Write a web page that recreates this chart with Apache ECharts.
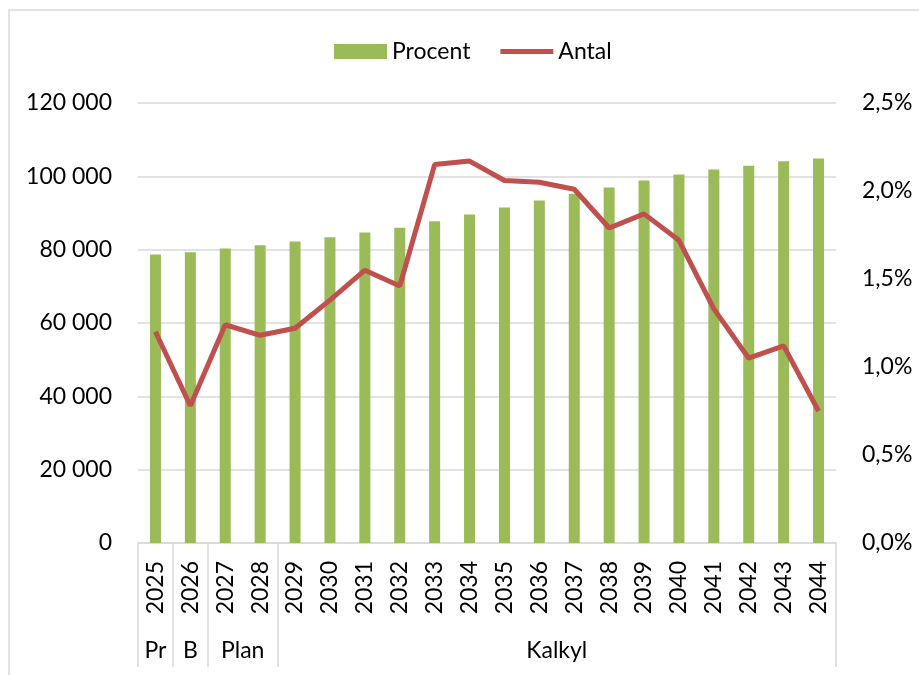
<!DOCTYPE html>
<html>
<head>
<meta charset="utf-8">
<script src="https://cdn.jsdelivr.net/npm/echarts@6.0.0/dist/echarts.min.js"></script>
<style>
  html, body { margin: 0; padding: 0; background: #fff; }
  #chart { width: 919px; height: 675px; }
</style>
</head>
<body>
<div id="chart"></div>
<script>
// kategorier
var years = ['2025', '2026', '2027', '2028', '2029', '2030', '2031', '2032', '2033', '2034',
  '2035', '2036', '2037', '2038', '2039', '2040', '2041', '2042', '2043', '2044']
// staplar (vänster axel), heter "Procent" i legenden
var barValues = [78660, 79290, 80300, 81200, 82210, 83390, 84670, 85950, 87750, 89580,
  91490, 93400, 95230, 96950, 98860, 100490, 101860, 102870, 104120, 104860]
// linje (höger axel, procent), heter "Antal" i legenden
var lineValues = [1.20, 0.78, 1.24, 1.18, 1.22, 1.38, 1.55, 1.46, 2.15, 2.17,
  2.06, 2.05, 2.01, 1.79, 1.87, 1.72, 1.33, 1.05, 1.12, 0.75]
// grupper under årtalen
var groupNames = ['Pr', 'B', 'Plan', 'Kalkyl']
var groupSizes = [1, 1, 2, 16]
var leftTicks = [0, 20000, 40000, 60000, 80000, 100000, 120000]
var rightTicks = [0, 0.5, 1, 1.5, 2, 2.5]

var bounds = [0]
var centers = []
groupSizes.forEach(function (s, i) {
  centers.push(bounds[i] + s / 2)
  bounds.push(bounds[i] + s)
})

var font = 'Lato, "Open Sans", sans-serif'
var fs = 23
var gridColor = '#d9d9d9'

var chart = echarts.init(document.getElementById('chart'))
chart.setOption({
  animation: false,
  textStyle: { fontFamily: font },
  graphic: [{
    type: 'rect',
    shape: { x: 9, y: 10, width: 940, height: 700 },
    style: { fill: null, stroke: gridColor, lineWidth: 1.5 },
    silent: true
  }],
  legend: {
    left: 334,
    top: 40,
    padding: 0,
    itemWidth: 53,
    itemHeight: 15,
    itemGap: 30,
    textStyle: { fontFamily: font, fontSize: fs, color: '#000' },
    data: [
      { name: 'Procent', icon: 'rect' },
      { name: 'Antal', icon: 'path://M0,0L0,0M0,5L53,5L53,10L0,10ZM53,15L53,15' }
    ]
  },
  grid: { left: 138, right: 83, top: 103, bottom: 132 },
  xAxis: [{
    type: 'category',
    data: years,
    axisLine: { lineStyle: { color: gridColor, width: 1.5 } },
    axisTick: { show: false },
    axisLabel: {
      rotate: 90,
      margin: 18,
      fontFamily: font,
      fontSize: fs,
      color: '#000',
      interval: 0
    }
  }, {
    type: 'value',
    min: 0,
    max: years.length,
    position: 'bottom',
    axisLine: { show: false },
    splitLine: { show: false },
    axisTick: {
      show: true,
      length: 124,
      customValues: bounds,
      lineStyle: { color: gridColor, width: 1.5 }
    },
    axisLabel: {
      customValues: centers,
      margin: 96,
      fontFamily: font,
      fontSize: fs,
      color: '#000',
      formatter: function (v) {
        var i = centers.indexOf(v)
        return i >= 0 ? groupNames[i] : ''
      }
    }
  }],
  yAxis: [{
    type: 'value',
    min: leftTicks[0],
    max: leftTicks[leftTicks.length - 1],
    interval: 20000,
    axisLine: { show: false },
    axisTick: { show: false },
    splitLine: { lineStyle: { color: gridColor, width: 1.5 } },
    axisLabel: {
      margin: 26,
      fontFamily: font,
      fontSize: fs,
      color: '#000',
      formatter: function (v) {
        return String(v).replace(/\B(?=(\d{3})+(?!\d))/g, ' ')
      }
    }
  }, {
    type: 'value',
    min: rightTicks[0],
    max: rightTicks[rightTicks.length - 1],
    interval: 0.5,
    position: 'right',
    axisLine: { show: false },
    axisTick: { show: false },
    splitLine: { show: false },
    axisLabel: {
      margin: 26,
      fontFamily: font,
      fontSize: fs,
      color: '#000',
      formatter: function (v) {
        return v.toFixed(1).replace('.', ',') + '%'
      }
    }
  }],
  series: [{
    name: 'Procent',
    type: 'bar',
    xAxisIndex: 0,
    yAxisIndex: 0,
    barWidth: 11,
    itemStyle: { color: '#9bbb59' },
    data: barValues
  }, {
    name: 'Antal',
    type: 'line',
    xAxisIndex: 0,
    yAxisIndex: 1,
    symbol: 'none',
    z: 5,
    lineStyle: { color: '#c0504d', width: 5 },
    itemStyle: { color: '#c0504d' },
    data: lineValues
  }]
})
</script>
</body>
</html>
